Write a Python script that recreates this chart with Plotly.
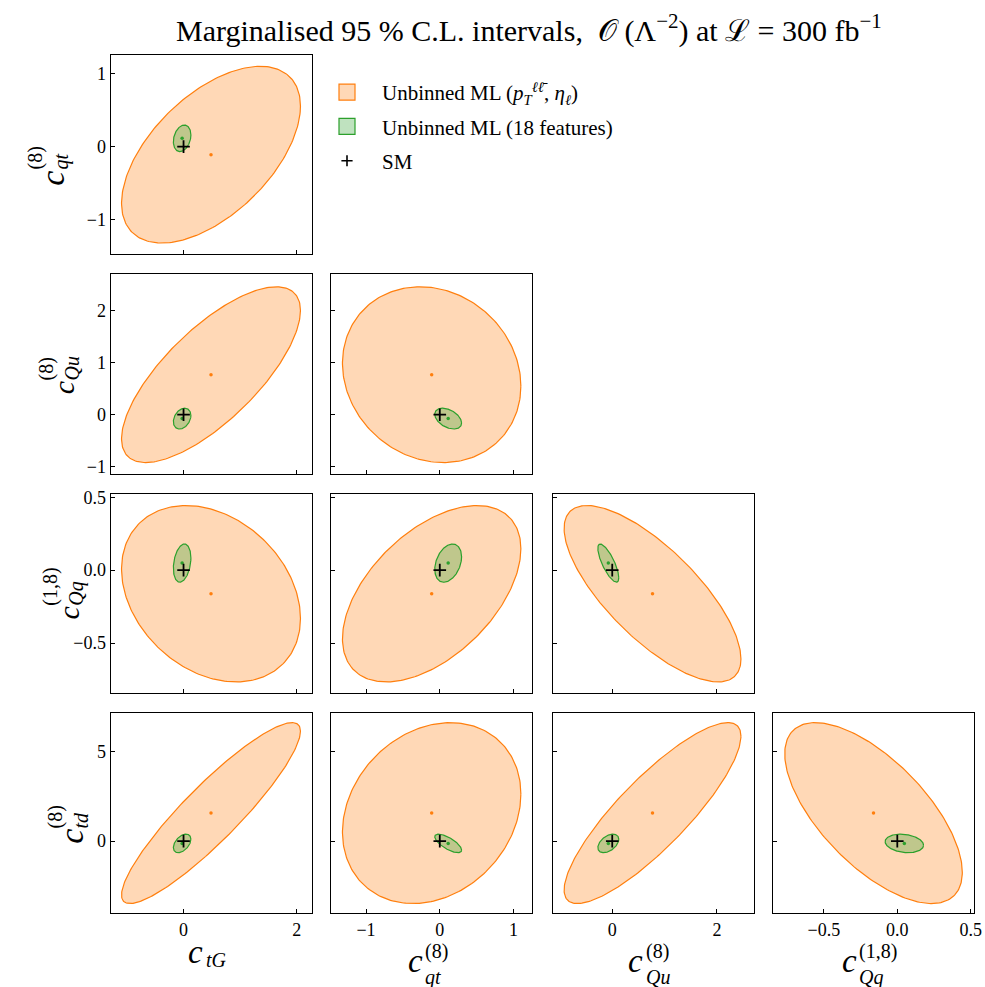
import numpy as np
import plotly.graph_objects as go

W, H = 985, 987

# ---------------- data ----------------
params = ["c_tG", "c_qt", "c_Qu", "c_Qq", "c_td"]

# Unbinned ML (pT_ll, eta_l): best-fit centres, 95% C.L. half-extents, pairwise correlations
orange_center = [0.485, -0.11, 0.77, -0.162, 1.57]
orange_half = [1.58, 1.21, 1.69, 0.605, 5.07]
orange_corr = {(1, 0): 0.55, (2, 0): 0.73, (2, 1): -0.13,
               (3, 0): -0.28, (3, 1): 0.51, (3, 2): -0.74,
               (4, 0): 0.905, (4, 1): 0.21, (4, 2): 0.85, (4, 3): -0.655}

# Unbinned ML (18 features)
green_center = [-0.025, 0.114, -0.075, 0.048, -0.13]
green_half = [0.155, 0.182, 0.20, 0.131, 0.52]
green_corr = {(1, 0): 0.25, (2, 0): 0.30, (2, 1): -0.42,
              (3, 0): 0.27, (3, 1): 0.33, (3, 2): -0.77,
              (4, 0): 0.45, (4, 1): -0.72, (4, 2): 0.45, (4, 3): -0.2}

sm_point = [0.0, 0.0, 0.0, 0.0, 0.0]

axis_ranges = [[-1.29, 2.26], [-1.47, 1.255], [-1.14, 2.70], [-0.845, 0.52], [-4.03, 7.18]]
x_ticks = [[0, 2], [-1, 0, 1], [0, 2], [-0.5, 0.0, 0.5]]
y_ticks = [[-1, 0, 1], [-1, 0, 1, 2], [-0.5, 0.0, 0.5], [0, 5]]
tick_formats = ["d", "d", "d", ".1f", "d"]

# label parts: (subscript, superscript)
label_parts = [("tG", ""), ("qt", "(8)"), ("Qu", "(8)"), ("Qq", "(1,8)"), ("td", "(8)")]

title_text = ("Marginalised 95 % C.L. intervals,  𝒪 (Λ<sup>−2</sup>) at "
              "ℒ = 300 fb<sup>−1</sup>")
legend_names = ["Unbinned ML (<i>p</i><sub><i>T</i></sub><sup><i>ℓℓ̄</i></sup>, <i>η</i><sub><i>ℓ</i></sub>)",
                "Unbinned ML (18 features)", "SM"]

# ---------------- styling ----------------
ORANGE = "#ff7f0e"
GREEN = "#2ca02c"
ORANGE_FILL = "rgba(255,127,14,0.3)"
GREEN_FILL = "rgba(44,160,44,0.3)"
FONT = "Liberation Serif"

col_px = [(110.5, 311.5), (331.4, 532.3), (552.6, 753.5), (773.3, 973.6)]
row_px = [(55, 254), (274.3, 474), (494.3, 693.3), (713, 913)]


def px_x(x):
    return x / W


def px_y(y):
    return 1 - y / H


def ellipse(cx, cy, hx, hy, rho, n=240):
    t = np.linspace(0, 2 * np.pi, n)
    x = cx + hx * np.cos(t)
    y = cy + hy * (rho * np.cos(t) + np.sqrt(1 - rho ** 2) * np.sin(t))
    return x, y


fig = go.Figure()
layout = dict(width=W, height=H, margin=dict(l=0, r=0, t=0, b=0, autoexpand=False),
              paper_bgcolor="white", plot_bgcolor="white",
              font=dict(family=FONT, size=18, color="black"))

k = 0
for r in range(4):
    pr = r + 1
    for c in range(r + 1):
        pc = c
        k += 1
        xa = "x" if k == 1 else f"x{k}"
        ya = "y" if k == 1 else f"y{k}"
        for center, half, corr, line, fill in [
            (orange_center, orange_half, orange_corr, ORANGE, ORANGE_FILL),
            (green_center, green_half, green_corr, GREEN, GREEN_FILL)]:
            ex, ey = ellipse(center[pc], center[pr], half[pc], half[pr], corr[(pr, pc)])
            fig.add_trace(go.Scatter(x=ex, y=ey, mode="lines", fill="toself",
                                     fillcolor=fill, line=dict(color=line, width=1.2),
                                     xaxis=xa, yaxis=ya, showlegend=False,
                                     hoverinfo="skip"))
        for center, colr in [(orange_center, ORANGE), (green_center, GREEN)]:
            fig.add_trace(go.Scatter(x=[center[pc]], y=[center[pr]], mode="markers",
                                     marker=dict(color=colr, size=3.5),
                                     xaxis=xa, yaxis=ya, showlegend=False))
        fig.add_trace(go.Scatter(x=[sm_point[pc]], y=[sm_point[pr]], mode="markers",
                                 marker=dict(symbol="cross-thin", size=9, color="black",
                                             line=dict(color="black", width=1.8)),
                                 xaxis=xa, yaxis=ya, showlegend=False))
        axcommon = dict(showline=True, mirror=True, linecolor="black", linewidth=1,
                        ticks="inside", ticklen=4, tickwidth=1, tickcolor="black",
                        showgrid=False, zeroline=False, automargin=False,
                        tickfont=dict(family=FONT, size=18, color="black"))
        layout["xaxis" if k == 1 else f"xaxis{k}"] = dict(
            axcommon, domain=[px_x(col_px[c][0]), px_x(col_px[c][1])],
            range=axis_ranges[pc], anchor=ya, tickvals=x_ticks[c],
            tickformat=tick_formats[pc], showticklabels=(r == 3))
        layout["yaxis" if k == 1 else f"yaxis{k}"] = dict(
            axcommon, domain=[px_y(row_px[r][1]), px_y(row_px[r][0])],
            range=axis_ranges[pr], anchor=xa, tickvals=y_ticks[r],
            tickformat=tick_formats[pr], showticklabels=(c == 0))

# legend entries
fig.add_trace(go.Scatter(x=[None], y=[None], mode="markers", name=legend_names[0],
                         marker=dict(symbol="square", size=20, color=ORANGE_FILL,
                                     line=dict(color=ORANGE, width=1.2)), legendgroup="a"))
fig.add_trace(go.Scatter(x=[None], y=[None], mode="markers", name=legend_names[1],
                         marker=dict(symbol="square", size=20, color=GREEN_FILL,
                                     line=dict(color=GREEN, width=1.2)), legendgroup="b"))
fig.add_trace(go.Scatter(x=[None], y=[None], mode="markers", name=legend_names[2],
                         marker=dict(symbol="cross-thin", size=8, color="black",
                                     line=dict(color="black", width=1.6)), legendgroup="c"))

layout["legend"] = dict(x=px_x(312), y=px_y(72), xanchor="left", yanchor="top",
                        font=dict(family=FONT, size=21, color="black"),
                        bgcolor="rgba(0,0,0,0)", tracegroupgap=4, itemsizing="trace",
                        itemwidth=60)
layout["showlegend"] = True

annotations = []
annotations.append(dict(text=title_text, x=px_x(529), y=px_y(28), xref="paper", yref="paper",
                        showarrow=False, xanchor="center", yanchor="middle",
                        font=dict(family=FONT, size=30, color="black")))


def block_text(sub, sup):
    return f"{sup}<br><i>{sub}</i>" if sup else f"<i>{sub}</i>"


def est_width(s, size):
    w = {"(": 0.333, ")": 0.333, "8": 0.5, "1": 0.5, ",": 0.25, "q": 0.5, "t": 0.3,
         "Q": 0.72, "u": 0.5, "G": 0.72, "d": 0.5}
    return sum(w.get(ch, 0.5) for ch in s) * size


S_SUB = 20
# x labels (columns)
XC_SIZE = 33
for c in range(4):
    sub, sup = label_parts[c]
    cx = (col_px[c][0] + col_px[c][1]) / 2
    wc = 0.444 * XC_SIZE
    wb = max(est_width(sub, S_SUB), est_width(sup, S_SUB))
    split = cx - (wc + wb) / 2 + wc - 4
    c_y = 961 if sup else 952
    b_y = 964 if sup else 960
    annotations.append(dict(text="<i>c</i>", x=px_x(split), y=px_y(c_y), xanchor="right",
                            yanchor="middle", showarrow=False, xref="paper", yref="paper",
                            borderpad=0, font=dict(family=FONT, size=XC_SIZE)))
    annotations.append(dict(text=block_text(sub, sup), x=px_x(split + 0.5), y=px_y(b_y),
                            xanchor="left", yanchor="middle", align="left", showarrow=False,
                            xref="paper", yref="paper", borderpad=0,
                            font=dict(family=FONT, size=S_SUB)))

# y labels (rows), rotated
row_c_size = [34, 30, 30, 34]
row_c_x = [55.5, 66, 71.5, 75]
row_c_shift = [12, 2, 0, 12]
for r in range(4):
    sub, sup = label_parts[r + 1]
    S = row_c_size[r]
    cy = (row_px[r][0] + row_px[r][1]) / 2
    wc = 0.444 * S
    wb = max(est_width(sub, S_SUB), est_width(sup, S_SUB))
    total = wc + wb
    c_center = cy + total / 2 - wc / 2 + row_c_shift[r]
    split = c_center - wc / 2 - 0.5
    annotations.append(dict(text="<i>c</i>", x=px_x(row_c_x[r] - 3), y=px_y(c_center),
                            xanchor="center", yanchor="middle", textangle=-90, showarrow=False,
                            xref="paper", yref="paper", borderpad=0,
                            font=dict(family=FONT, size=S)))
    annotations.append(dict(text=block_text(sub, sup), x=px_x(row_c_x[r] - 7.5),
                            y=px_y(split - wb / 2), xanchor="center", yanchor="middle",
                            align="left", textangle=-90, showarrow=False,
                            xref="paper", yref="paper", borderpad=0,
                            font=dict(family=FONT, size=S_SUB)))

layout["annotations"] = annotations
fig.update_layout(**layout)
fig.write_html("out.html", config={"displayModeBar": False},
               post_script="document.body.style.margin='0px';document.body.style.overflow='hidden';")
